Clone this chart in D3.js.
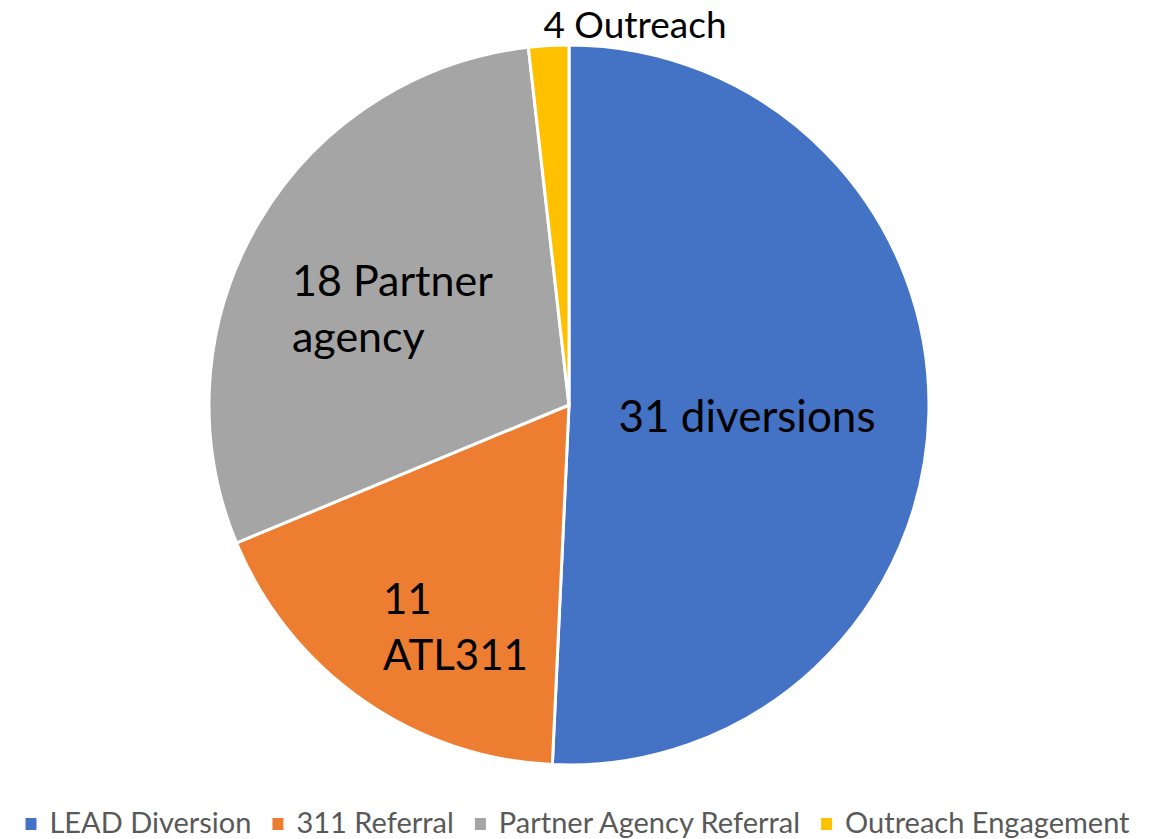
<!DOCTYPE html>
<html><head><meta charset="utf-8">
<script src="https://cdn.jsdelivr.net/npm/d3@7"></script>
<style>body{margin:0;background:#fff}svg{display:block}</style>
</head><body>
<svg id="c" width="1155" height="839"></svg>
<script>
const categories = ["LEAD Diversion", "311 Referral", "Partner Agency Referral", "Outreach Engagement"];
const values = [31, 11, 18, 1.1];
const sliceLabels = [["31 diversions"], ["11", "ATL311"], ["18 Partner", "agency"], ["4 Outreach"]];
const colors = ["#4472C4", "#ED7D31", "#A5A5A5", "#FFC000"];

const svg = d3.select("#c");
const cx = 569, cy = 405, r = 360;
const g = svg.append("g").attr("transform", `translate(${cx},${cy})`);
const pie = d3.pie().sort(null).value(d => d)(values);
const arc = d3.arc().innerRadius(0).outerRadius(r);
g.selectAll("path").data(pie).join("path")
  .attr("d", arc).attr("fill", (d, i) => colors[i])
  .attr("stroke", "#fff").attr("stroke-width", 3).attr("stroke-linejoin", "round");

// label positions (relative to centre) as [x, first baseline]
const labelPos = [[178, 27], [-186, 209], [-277, -109], [66, -367]];
const labelAnchor = ["middle", "start", "start", "middle"];
const labelSize = [44, 42, 43, 37];
const lineH = 56;
sliceLabels.forEach((lines, i) => {
  const t = g.append("text").attr("font-family", "Lato, 'Open Sans', sans-serif")
    .attr("font-size", labelSize[i]).attr("fill", "#000").attr("text-anchor", labelAnchor[i]);
  lines.forEach((s, j) => t.append("tspan").attr("x", labelPos[i][0]).attr("y", labelPos[i][1] + j * lineH).text(s));
});

// legend
const leg = svg.append("g");
const items = leg.selectAll("g").data(categories).join("g");
items.append("rect").attr("width", 11).attr("height", 12).attr("y", -15).attr("fill", (d, i) => colors[i]);
items.append("text").attr("x", 24).attr("font-family", "Lato, 'Open Sans', sans-serif")
  .attr("font-size", 29).attr("fill", "#595959").text(d => d);
let x = 0;
items.each(function () {
  const w = d3.select(this).select("text").node().getComputedTextLength();
  d3.select(this).attr("transform", `translate(${x},0)`);
  x += 24 + w + 21;
});
const total = x - 21;
leg.attr("transform", `translate(${(1155 - total) / 2},833)`);
</script>
</body></html>
